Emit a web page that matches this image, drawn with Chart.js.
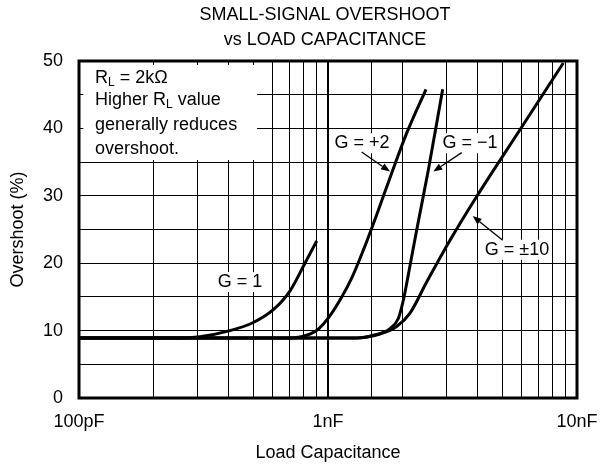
<!DOCTYPE html>
<html>
<head>
<meta charset="utf-8">
<title>Small-signal overshoot vs load capacitance</title>
<script src="https://cdn.jsdelivr.net/npm/chart.js@4.4.0/dist/chart.umd.min.js"></script>
<style>
  html, body { margin: 0; padding: 0; background: #fff; }
  canvas { display: block; }
</style>
</head>
<body>
<canvas id="chart" width="602" height="466"></canvas>
<script>
// load capacitance in pF, overshoot in %
var g1Cap = [100, 250, 306, 404, 501, 603, 704, 808, 901];
var g1Overshoot = [8.9, 8.9, 9.1, 10.0, 11.2, 13.1, 15.9, 20.0, 23.3];

var g2Cap = [100, 700, 780, 850, 920, 1000, 1128, 1249, 1382, 1569, 1791, 2070, 2475];
var g2Overshoot = [8.9, 8.9, 9.1, 9.5, 10.3, 11.8, 14.8, 17.9, 21.8, 27.2, 33.1, 39.3, 45.8];

var gm1Cap = [100, 1300, 1520, 1774, 1916, 2007, 2070, 2270, 2528, 2888];
var gm1Overshoot = [8.9, 8.9, 9.3, 10.3, 11.8, 14.5, 17.0, 24.9, 33.8, 45.8];

var g10Cap = [100, 1300, 1617, 1887, 2135, 2490, 3090, 3955, 5902, 8810];
var g10Overshoot = [8.9, 8.9, 9.5, 10.6, 12.6, 17.2, 23.4, 29.9, 39.8, 49.7];

var xTickValues = [100, 1000, 10000];
var xTickLabels = ['100pF', '1nF', '10nF'];

var titleLines = ['SMALL-SIGNAL OVERSHOOT', 'vs LOAD CAPACITANCE'];
var noteLines = ['R_L = 2k\u03A9', 'Higher R_L value', 'generally reduces', 'overshoot.'];

var FONT = '"Liberation Sans", Arial, Helvetica, sans-serif';

function toPoints(xs, ys) {
    return xs.map(function (x, i) { return { x: x, y: ys[i] }; });
}

// where the curve labels and arrows sit (data units)
var curveLabels = [
    { text: 'G = 1', x: 443, y: 17.2 },
    { text: 'G = +2', x: 1369, y: 37.8, arrow: [1365, 36.5, 1774, 33.6] },
    { text: 'G = \u22121', x: 3718, y: 37.8, arrow: [3443, 36.4, 2648, 33.6] },
    { text: 'G = \u00B110', x: 5741, y: 22.0, arrow: [5030, 23.4, 3811, 27.0] }
];
var noteBox = { x0: 104, x1: 519, y0: 49.4, y1: 35.3, textX: 116, lineY: [47.5, 44.2, 40.5, 36.9] };

function drawRich(ctx, text, x, y) {
    var parts = text.split('_L');
    var cx = x;
    parts.forEach(function (p, i) {
        if (i > 0) {
            ctx.font = '12px ' + FONT;
            ctx.fillText('L', cx, y + 5);
            cx += ctx.measureText('L').width;
        }
        ctx.font = '18px ' + FONT;
        ctx.fillText(p, cx, y);
        cx += ctx.measureText(p).width;
    });
}

function drawArrow(ctx, x0, y0, x1, y1) {
    var ang = Math.atan2(y1 - y0, x1 - x0);
    var head = 9, half = 3.5;
    ctx.lineWidth = 1.3;
    ctx.beginPath();
    ctx.moveTo(x0, y0);
    ctx.lineTo(x1 - Math.cos(ang) * head, y1 - Math.sin(ang) * head);
    ctx.stroke();
    ctx.beginPath();
    ctx.moveTo(x1, y1);
    ctx.lineTo(x1 - Math.cos(ang) * head - Math.sin(ang) * half, y1 - Math.sin(ang) * head + Math.cos(ang) * half);
    ctx.lineTo(x1 - Math.cos(ang) * head + Math.sin(ang) * half, y1 - Math.sin(ang) * head - Math.cos(ang) * half);
    ctx.closePath();
    ctx.fill();
}

var decorations = {
    id: 'decorations',
    beforeDatasetsDraw: function (chart) {
        var ctx = chart.ctx, xs = chart.scales.x, ys = chart.scales.y;
        ctx.save();
        // white panel for the note
        var bx0 = xs.getPixelForValue(noteBox.x0), bx1 = xs.getPixelForValue(noteBox.x1);
        var by0 = ys.getPixelForValue(noteBox.y0), by1 = ys.getPixelForValue(noteBox.y1);
        ctx.fillStyle = '#fff';
        ctx.fillRect(bx0, by0, bx1 - bx0, by1 - by0);
        ctx.fillStyle = '#000';
        ctx.textAlign = 'left';
        ctx.textBaseline = 'middle';
        noteLines.forEach(function (line, i) {
            drawRich(ctx, line, xs.getPixelForValue(noteBox.textX), ys.getPixelForValue(noteBox.lineY[i]));
        });
        ctx.restore();
    },
    afterDatasetsDraw: function (chart) {
        var ctx = chart.ctx, xs = chart.scales.x, ys = chart.scales.y;
        ctx.save();
        ctx.font = '18px ' + FONT;
        ctx.textAlign = 'center';
        ctx.textBaseline = 'middle';
        ctx.strokeStyle = '#000';
        curveLabels.forEach(function (lb) {
            var px = xs.getPixelForValue(lb.x), py = ys.getPixelForValue(lb.y);
            var w = ctx.measureText(lb.text).width;
            ctx.fillStyle = '#fff';
            ctx.fillRect(px - w / 2 - 2, py - 10, w + 4, 20);
            ctx.fillStyle = '#000';
            ctx.fillText(lb.text, px, py);
            if (lb.arrow) {
                drawArrow(ctx,
                    xs.getPixelForValue(lb.arrow[0]), ys.getPixelForValue(lb.arrow[1]),
                    xs.getPixelForValue(lb.arrow[2]), ys.getPixelForValue(lb.arrow[3]));
            }
        });
        ctx.restore();
    },
    afterDraw: function (chart) {
        var ctx = chart.ctx, a = chart.chartArea;
        ctx.save();
        ctx.strokeStyle = '#000';
        ctx.lineWidth = 3;
        ctx.strokeRect(a.left, a.top, a.right - a.left, a.bottom - a.top);
        ctx.fillStyle = '#000';
        ctx.font = '18px ' + FONT;
        ctx.textAlign = 'center';
        ctx.textBaseline = 'middle';
        var cx = (a.left + a.right) / 2 - 3;
        ctx.fillText(titleLines[0], cx, 15);
        ctx.fillText(titleLines[1], cx, 40);
        ctx.restore();
    }
};

function lineSet(label, xs, ys) {
    return {
        label: label,
        data: toPoints(xs, ys),
        borderColor: '#000',
        borderWidth: 3,
        pointRadius: 0,
        fill: false,
        cubicInterpolationMode: 'monotone'
    };
}

Chart.defaults.font.family = FONT;
Chart.defaults.font.size = 18;
Chart.defaults.color = '#000';

new Chart(document.getElementById('chart').getContext('2d'), {
    type: 'line',
    data: {
        datasets: [
            lineSet('G = 1', g1Cap, g1Overshoot),
            lineSet('G = +2', g2Cap, g2Overshoot),
            lineSet('G = -1', gm1Cap, gm1Overshoot),
            lineSet('G = ±10', g10Cap, g10Overshoot)
        ]
    },
    options: {
        responsive: false,
        animation: false,
        layout: { padding: { left: 0, right: 25, top: 61, bottom: 0 } },
        plugins: {
            legend: { display: false },
            tooltip: { enabled: false },
            title: { display: false }
        },
        scales: {
            x: {
                type: 'logarithmic',
                min: 100,
                max: 10000,
                afterFit: function (scale) {
                    scale.height = 68;
                    scale.paddingLeft = 0;
                    scale.paddingRight = 0;
                },
                ticks: {
                    autoSkip: false,
                    maxRotation: 0,
                    padding: 13,
                    callback: function (value) {
                        var i = xTickValues.indexOf(Math.round(value));
                        return i >= 0 ? xTickLabels[i] : '';
                    }
                },
                grid: {
                    color: '#000',
                    drawTicks: false,
                    lineWidth: function (ctx) {
                        return ctx.tick && Math.round(ctx.tick.value) === 1000 ? 2 : 1;
                    }
                },
                border: { display: false },
                title: { display: true, text: 'Load Capacitance', padding: { top: 0, bottom: 2 } }
            },
            y: {
                min: 0,
                max: 50,
                afterFit: function (scale) { scale.width = 79; },
                ticks: {
                    stepSize: 5,
                    padding: 16,
                    callback: function (value) { return value % 10 === 0 ? String(value) : ''; }
                },
                grid: { color: '#000', lineWidth: 1, drawTicks: false },
                border: { display: false },
                title: { display: true, text: 'Overshoot (%)', padding: { top: 7, bottom: 0 } }
            }
        }
    },
    plugins: [decorations]
});
</script>
</body>
</html>
